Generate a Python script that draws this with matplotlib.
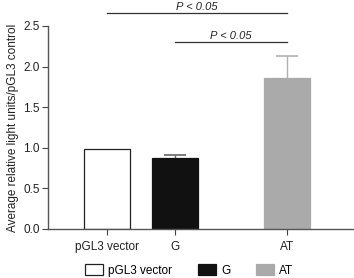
import matplotlib
matplotlib.use("Agg")
import matplotlib.pyplot as plt
from matplotlib.patches import Patch

# data
groups = ["pGL3 vector", "G", "AT"]
means = [0.99, 0.87, 1.86]
errors = [0.0, 0.04, 0.27]
bar_colors = ["white", "#111111", "#aaaaaa"]
edge_colors = ["#222222", "#111111", "#aaaaaa"]
err_colors = ["#222222", "#666666", "#b0b0b0"]
sig_label = "P < 0.05"

# layout
xpos = [0, 1, 2.65]
width = 0.68

plt.rcParams["font.family"] = "Liberation Sans"
plt.rcParams["font.size"] = 8.5

fig = plt.figure(figsize=(3.54, 2.78), dpi=100)
ax = fig.add_axes([0.1356, 0.1763, 0.8644, 0.7302])

for x, m, e, c, ec, erc in zip(xpos, means, errors, bar_colors, edge_colors, err_colors):
    ax.bar(x, m, width=width, color=c, edgecolor=ec, linewidth=0.9, zorder=2)
    if e > 0:
        # upper error only, so hide the lower cap
        _, caps, _ = ax.errorbar(x, m, yerr=[[0], [e]], fmt="none", ecolor=erc,
                                 elinewidth=1.0, capsize=8, capthick=1.2, zorder=1)
        caps[0].set_visible(False)

ax.set_xlim(-0.868, 3.63)
ax.set_ylim(0, 2.5)
ax.set_yticks([0, 0.5, 1.0, 1.5, 2.0, 2.5])
ax.set_yticklabels(["0.0", "0.5", "1.0", "1.5", "2.0", "2.5"])
ax.set_xticks(xpos)
ax.set_xticklabels(groups)
ax.tick_params(axis="x", length=4, pad=5, color="#444444", labelcolor="#222222")
ax.tick_params(axis="y", length=4, pad=2, color="#444444", labelcolor="#222222")
ax.set_ylabel("Average relative light units/pGL3 control", color="#222222", labelpad=3)

for s in ["top", "right"]:
    ax.spines[s].set_visible(False)
for s in ["left", "bottom"]:
    ax.spines[s].set_color("#555555")
    ax.spines[s].set_linewidth(1.0)

# significance brackets
ax.plot([xpos[0], xpos[2]], [2.66, 2.66], color="#333333", lw=0.9, clip_on=False)
ax.text((xpos[0] + xpos[2]) / 2, 2.70, sig_label, ha="center", va="baseline",
        style="italic", color="#222222", fontsize=8)
ax.plot([xpos[1], xpos[2]], [2.30, 2.30], color="#333333", lw=0.9, clip_on=False)
ax.text((xpos[1] + xpos[2]) / 2, 2.335, sig_label, ha="center", va="baseline",
        style="italic", color="#222222", fontsize=8)

handles = [Patch(facecolor=c, edgecolor=ec, linewidth=0.9)
           for c, ec in zip(bar_colors, edge_colors)]
fig.legend(handles, groups, loc="center", bbox_to_anchor=(0.535, 0.027),
           ncol=3, frameon=False, handlelength=1.5, handleheight=1.0,
           columnspacing=2.2, handletextpad=0.45, borderpad=0.0)

fig.savefig("out.png", dpi=100)
